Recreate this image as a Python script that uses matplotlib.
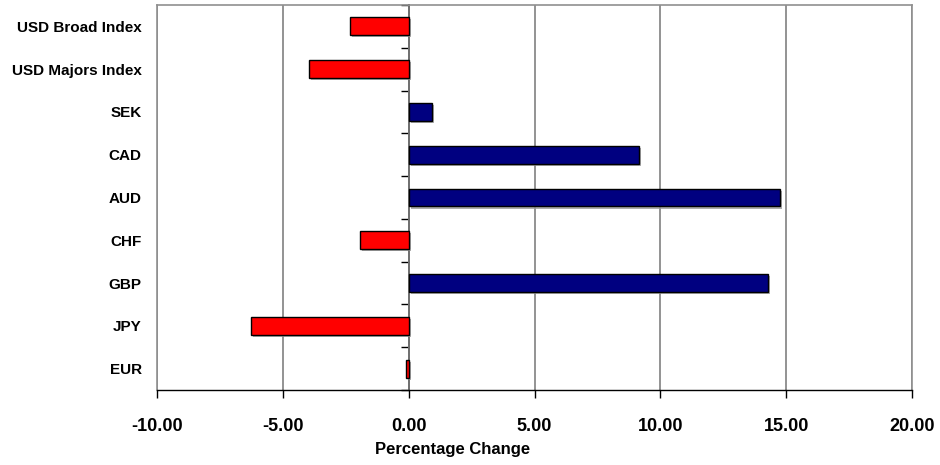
import matplotlib
matplotlib.use("Agg")
import matplotlib.pyplot as plt
import matplotlib.patheffects as pe
import numpy as np

plt.rcParams['font.family'] = ['Liberation Sans', 'DejaVu Sans']
plt.rcParams['font.weight'] = 'bold'

categories = ["EUR", "JPY", "GBP", "CHF", "AUD", "CAD", "SEK",
              "USD Majors Index", "USD Broad Index"]
changes = [-0.09, -6.26, 14.29, -1.94, 14.75, 9.14, 0.93, -3.96, -2.33]
x_ticks = [-10, -5, 0, 5, 10, 15, 20]

colors = ["#ff0000" if v < 0 else "#000080" for v in changes]
ypos = np.arange(len(categories))

fig = plt.figure(figsize=(9.4, 4.65), dpi=100)
ax = fig.add_axes([157 / 940, 1 - 390 / 465, 755 / 940, 385 / 465])

bars = ax.barh(ypos, changes, height=0.42, color=colors, edgecolor="black",
               linewidth=1.0, zorder=3)
for b in bars:
    b.set_path_effects([pe.SimplePatchShadow(offset=(1.5, -1.5), shadow_rgbFace="#999999", alpha=0.8),
                        pe.Normal()])

ax.set_xlim(-10, 20)
ax.set_ylim(-0.5, len(categories) - 0.5)
ax.set_xticks(x_ticks)
ax.set_xticklabels(["%.2f" % t for t in x_ticks], fontsize=13, fontweight="bold")
ax.tick_params(axis="x", length=6, width=1, direction="out", pad=14, color="black")

ax.set_yticks(ypos)
ax.set_yticklabels(categories, fontsize=11, fontweight="bold")
ax.tick_params(axis="y", length=0, pad=11)

ax.grid(axis="x", color="#808080", linewidth=1.2, zorder=0)
ax.set_axisbelow(True)

for s in ["top", "right", "left"]:
    ax.spines[s].set_color("#909090")
    ax.spines[s].set_linewidth(1.2)
ax.spines["bottom"].set_color("black")
ax.spines["bottom"].set_linewidth(1.0)

# zero axis with category boundary ticks
zero_ax = ax.secondary_yaxis((0 - (-10)) / 30)
zero_ax.set_yticks(np.arange(len(categories) + 1) - 0.5)
zero_ax.set_yticklabels([])
zero_ax.tick_params(length=6, width=1, color="black")
zero_ax.spines["left"].set_color("black")
zero_ax.spines["left"].set_linewidth(1.2)
zero_ax.spines["left"].set_zorder(4)

ax.set_xlabel("Percentage Change", fontsize=12, fontweight="bold")
ax.xaxis.set_label_coords((453 - 157) / 755, -0.135)

fig.savefig("out.png", dpi=100)
